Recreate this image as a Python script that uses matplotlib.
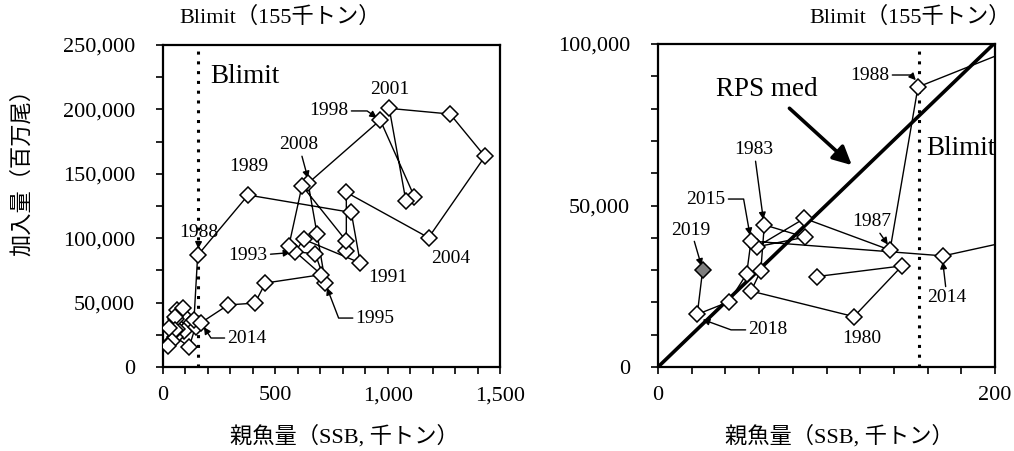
import matplotlib
matplotlib.use("Agg")
import matplotlib.pyplot as plt
from matplotlib.ticker import MultipleLocator, FuncFormatter

plt.rcParams['font.family'] = ['Liberation Serif', 'Noto Sans CJK JP']

# stock-recruitment series (SSB: 千トン, recruits: 百万尾)
years = list(range(1978, 2020))
ssb = [94.2, 144.8, 116.3, 55.2, 61.0, 63.1, 87.2, 58.6, 86.9, 137.7,
       154.3, 379, 838, 878, 626, 589, 678, 723, 686, 646,
       967, 1119, 1081, 1007, 1278, 1433, 1182, 816, 816, 816,
       619, 560, 705, 456, 409, 290, 169.3, 55.2, 52.6, 42.1,
       23.3, 26.5]
rec = [28000, 31300, 15600, 23500, 29800, 44000, 40200, 37200, 46000, 36200,
       86700, 133500, 120000, 80800, 99100, 89500, 87900, 65200, 103000, 142700,
       191700, 132200, 129100, 200800, 196400, 163500, 100400, 135600, 90000, 97800,
       140800, 93900, 71700, 65200, 49600, 48200, 34400, 39000, 28800, 20200,
       16300, 30000]

blimit = 155
rps_med = 502  # 百万尾 / 千トン

W, H = 1014, 451
fig = plt.figure(figsize=(W / 100, H / 100), dpi=100)


def px_box(x0, y0, x1, y1):
    return [x0 / W, 1 - y1 / H, (x1 - x0) / W, (y1 - y0) / H]


ax1 = fig.add_axes(px_box(163, 45, 500, 367))
ax2 = fig.add_axes(px_box(658, 44, 995, 367))

comma = FuncFormatter(lambda v, p: f"{int(v):,}")
tick_fs = 16
lab_fs = 14


def draw_series(ax, last_fill):
    ax.plot(ssb, rec, color='black', lw=1.0, zorder=3)
    ax.plot(ssb[:-1], rec[:-1], ls='none', marker='D', ms=8.5,
            mfc='white', mec='black', mew=1.1, zorder=4)
    ax.plot(ssb[-1:], rec[-1:], ls='none', marker='D', ms=8.5,
            mfc=last_fill, mec='black', mew=1.1, zorder=4)
    ax.axvline(blimit, color='black', ls=(0, (1, 2.2)), lw=2.2, zorder=2)
    for s in ax.spines.values():
        s.set_linewidth(1.6)
    ax.tick_params(which='both', direction='out', length=5, width=1.2,
                   labelsize=tick_fs)
    ax.tick_params(axis='y', which='both', pad=15)
    ax.tick_params(axis='x', which='both', pad=9)
    ax.yaxis.set_major_formatter(comma)
    ax.xaxis.set_major_formatter(comma)


arrow = dict(arrowstyle='-|>', color='black', lw=1.0, mutation_scale=10,
             shrinkA=0, shrinkB=0)


def bent(angle_b):
    return dict(arrow, connectionstyle=f'angle,angleA=0,angleB={angle_b},rad=0')


# left: whole range
draw_series(ax1, 'white')
ax1.set_xlim(0, 1500)
ax1.set_ylim(0, 250000)
ax1.xaxis.set_major_locator(MultipleLocator(500))
ax1.xaxis.set_minor_locator(MultipleLocator(100))
ax1.yaxis.set_major_locator(MultipleLocator(50000))
ax1.yaxis.set_minor_locator(MultipleLocator(25000))
ax1.text(212, 225500, 'Blimit', fontsize=19.5, ha='left', va='center')

ax1.text(1010, 215800, '2001', fontsize=lab_fs, ha='center', va='center')
ax1.text(383, 156000, '1989', fontsize=lab_fs, ha='center', va='center')
ax1.text(1001, 69100, '1991', fontsize=lab_fs, ha='center', va='center')
ax1.text(1282, 83900, '2004', fontsize=lab_fs, ha='center', va='center')
ax1.annotate('1998', xy=(952, 193500), xytext=(739, 198800), fontsize=lab_fs,
             ha='center', va='center', arrowprops=bent(-35))
ax1.annotate('2008', xy=(645, 146500), xytext=(605, 172400), fontsize=lab_fs,
             ha='center', va='center', arrowprops=arrow)
ax1.annotate('1988', xy=(157, 91800), xytext=(160, 104800), fontsize=lab_fs,
             ha='center', va='center', arrowprops=arrow)
ax1.annotate('1993', xy=(567, 88800), xytext=(379, 86200), fontsize=lab_fs,
             ha='center', va='center', arrowprops=arrow)
ax1.annotate('1995', xy=(730, 61500), xytext=(944, 38000), fontsize=lab_fs,
             ha='center', va='center', arrowprops=bent(111))
ax1.annotate('2014', xy=(182, 31000), xytext=(374, 22500), fontsize=lab_fs,
             ha='center', va='center', arrowprops=bent(123))

# right: low-SSB detail with RPS median line
draw_series(ax2, '#7f7f7f')
ax2.set_xlim(0, 200)
ax2.set_ylim(0, 100000)
ax2.xaxis.set_major_locator(MultipleLocator(200))
ax2.xaxis.set_minor_locator(MultipleLocator(20))
ax2.yaxis.set_major_locator(MultipleLocator(50000))
ax2.yaxis.set_minor_locator(MultipleLocator(10000))
ax2.plot([0, 200], [0, 200 * rps_med], color='black', lw=2.6, zorder=3)
ax2.text(159.5, 67800, 'Blimit', fontsize=19.5, ha='left', va='center')
ax2.text(64.7, 85800, 'RPS med', fontsize=19.5, ha='center', va='center')
ax2.annotate('', xy=(115, 62500), xytext=(78, 80100),
             arrowprops=dict(arrowstyle='-|>', color='black', lw=2.6,
                             mutation_scale=28, shrinkA=0, shrinkB=0))
ax2.text(121, 8700, '1980', fontsize=lab_fs, ha='center', va='center')
ax2.annotate('1988', xy=(153, 88800), xytext=(125.8, 90400), fontsize=lab_fs,
             ha='center', va='center', arrowprops=bent(-47))
ax2.annotate('1983', xy=(62.5, 45700), xytext=(57, 67200), fontsize=lab_fs,
             ha='center', va='center', arrowprops=arrow)
ax2.annotate('2015', xy=(54.6, 40800), xytext=(28.5, 52000), fontsize=lab_fs,
             ha='center', va='center', arrowprops=bent(-80))
ax2.annotate('2019', xy=(25.8, 31300), xytext=(19.6, 42400), fontsize=lab_fs,
             ha='center', va='center', arrowprops=arrow)
ax2.annotate('2018', xy=(26.5, 14700), xytext=(65.3, 11500), fontsize=lab_fs,
             ha='center', va='center', arrowprops=bent(-20))
ax2.annotate('1987', xy=(136.4, 37900), xytext=(127, 44900), fontsize=lab_fs,
             ha='center', va='center', arrowprops=arrow)
ax2.annotate('2014', xy=(169, 32600), xytext=(171.5, 21400), fontsize=lab_fs,
             ha='center', va='center', arrowprops=arrow)

# labels outside the axes
fig.text(280 / W, 1 - 17 / H, 'Blimit（155千トン）', fontsize=16, ha='center', va='center')
fig.text(910 / W, 1 - 17 / H, 'Blimit（155千トン）', fontsize=16, ha='center', va='center')
fig.text(344 / W, 1 - 436 / H, '親魚量（SSB, 千トン）', fontsize=16, ha='center', va='center')
fig.text(839 / W, 1 - 436 / H, '親魚量（SSB, 千トン）', fontsize=16, ha='center', va='center')
fig.text(22 / W, 1 - 167 / H, '加入量（百万尾）', fontsize=16, ha='center', va='center',
         rotation=90)

fig.savefig('out.png', dpi=100)
